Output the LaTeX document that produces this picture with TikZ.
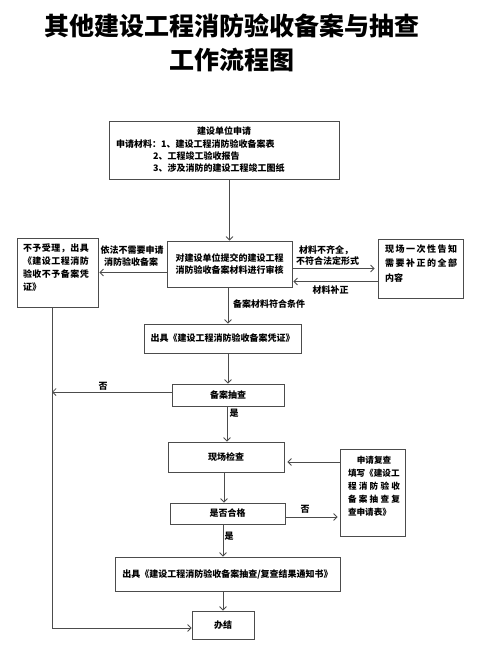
\documentclass[tikz,border=0pt]{standalone}
\usepackage{fontspec}
\setmainfont{Noto Sans CJK SC}
\usetikzlibrary{arrows.meta,calc}
\begin{document}
\begin{tikzpicture}[x=1pt,y=-1pt,
  box/.style 2 args={draw=black!70,line width=0.8pt,inner sep=0pt,minimum width=#1,minimum height=#2},
  txt/.style={font=\fontsize{9}{12}\selectfont\bfseries,inner sep=0pt,align=center},
  arr/.style={draw=black!70,line width=0.8pt,-{Straight Barb[length=3.5pt,width=7pt]}},
  ln/.style={draw=black!70,line width=0.8pt},
  ttl/.style={font=\fontsize{25}{30}\selectfont\bfseries,inner sep=0pt}]
\useasboundingbox (0,0) rectangle (493,647);
% title
\node[ttl] (t1) at (232,26) {其他建设工程消防验收备案与抽查};
\node[ttl] (t2) at (232,60) {工作流程图};
% box 1
\node[box={230}{58}] (b1) at (224,150) {};
\node[txt] (b1t) at (224,131) {建设单位申请};
\node[txt,anchor=west] (b1a) at (116,144) {申请材料：1、建设工程消防验收备案表};
\node[txt,anchor=west] (b1b) at (153,156) {2、工程竣工验收报告};
\node[txt,anchor=west] (b1c) at (153,168) {3、涉及消防的建设工程竣工图纸};
% box 2
\node[box={125}{46},txt] (b2) at (229.5,264) {对建设单位提交的建设工程\\消防验收备案材料进行审核};
% left box
\node[box={81}{69}] (nb) at (57.5,272.5) {};
\node[txt,align=left,font=\fontsize{9}{13}\selectfont\bfseries] (nbt) at (56,267.5) {%
\makebox[66pt][s]{不\hfil 予\hfil 受\hfil 理\hfil ，\hfil 出\hfil 具}\\
\makebox[66pt][s]{《\hfil 建\hfil 设\hfil 工\hfil 程\hfil 消\hfil 防}\\
\makebox[66pt][s]{验\hfil 收\hfil 不\hfil 予\hfil 备\hfil 案\hfil 凭}\\
证》};
% right box
\node[box={85}{59}] (rb) at (420.5,268.5) {};
\node[txt,align=left,font=\fontsize{9}{14.5}\selectfont\bfseries] (rbt) at (421,263.5) {%
\makebox[72pt][s]{现\hfil 场\hfil 一\hfil 次\hfil 性\hfil 告\hfil 知}\\
\makebox[72pt][s]{需\hfil 要\hfil 补\hfil 正\hfil 的\hfil 全\hfil 部}\\
内容};
% box 3..8
\node[box={157}{29},txt] (b3) at (222.5,338.5) {出具《建设工程消防验收备案凭证》};
\node[box={112}{22},txt] (b4) at (228,395) {备案抽查};
\node[box={116}{30},txt] (b5) at (226,457) {现场检查};
\node[box={115}{21},txt] (b6) at (227.5,513.5) {是否合格};
\node[box={225}{34},txt] (b7) at (227.5,574) {出具《建设工程消防验收备案抽查/复查结果通知书》};
\node[box={62}{28},txt] (b8) at (223,625) {办结};
% review box
\node[box={65}{87}] (rv) at (372.5,492.5) {};
\node[txt,align=left,font=\fontsize{8.6}{13}\selectfont\bfseries] (rvt) at (374,486) {%
\makebox[52pt]{申请复查}\\
填写《建设工\\
\makebox[52pt][s]{程\hfil 消\hfil 防\hfil 验\hfil 收}\\
\makebox[52pt][s]{备\hfil 案\hfil 抽\hfil 查\hfil 复}\\
查申请表》};
% coordinates
\coordinate (lj) at (52,392);
% connectors
\draw[arr] (b1.south -| b2.north) -- (b2.north);
\draw[arr] (b2.west |- nb.east) -- ([xshift=1pt]nb.east);
\draw[arr] (b2.east |- rb.west) -- ([xshift=-3pt]rb.west);
\draw[arr] ([yshift=-13pt]rb.west) -- ([xshift=1pt,yshift=-13pt]b2.east |- rb.west);
\draw[arr] ([xshift=-1.5pt]b2.south) -- ([xshift=-1.5pt]b2.south |- b3.north);
\draw[arr] (b4.north |- b3.south) -- (b4.north);
\draw[arr] ([yshift=3pt]b4.west) -- (lj);
\draw[arr] ([xshift=-1pt]b4.south) -- ([xshift=-1pt]b4.south |- b5.north);
\draw[arr] ([xshift=-2pt]b5.south) -- ([xshift=-2pt]b5.south |- b6.north);
\draw[arr] ([yshift=-5pt]rv.west |- b5.east) -- ([xshift=3pt,yshift=-5pt]b5.east);
\draw[arr] ([yshift=-3.5pt]b6.east) -- ([xshift=-2pt,yshift=-3.5pt]rv.west |- b6.east);
\draw[arr] ([xshift=-4.5pt]b6.south) -- ([xshift=-4.5pt]b6.south |- b7.north);
\draw[arr] (b8.north |- b7.south) -- (b8.north);
\draw[arr] ([xshift=-5.5pt]nb.south) |- ([yshift=-3pt]b8.west);
% labels
\node[txt] (l1) at (132,250) {依法不需要申请};
\node[txt] (l2) at (131,262) {消防验收备案};
\node[txt] (l3) at (326,250) {材料不齐全，};
\node[txt] (l4) at (327.5,261) {不符合法定形式};
\node[txt] (l5) at (330.5,290) {材料补正};
\node[txt] (l6) at (269,304) {备案材料符合条件};
\node[txt] (l7) at (103,386) {否};
\node[txt] (l8) at (234,413) {是};
\node[txt] (l9) at (305,509) {否};
\node[txt] (l10) at (229,536) {是};
\end{tikzpicture}
\end{document}
